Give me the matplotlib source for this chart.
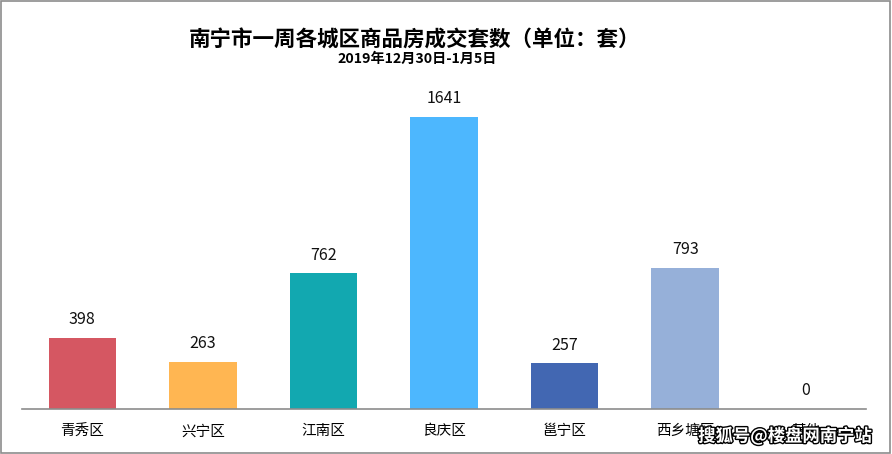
import matplotlib.pyplot as plt
import matplotlib.patheffects as pe
from matplotlib.patches import Rectangle

plt.rcParams['font.family'] = ['Noto Sans CJK SC', 'DejaVu Sans']

districts = ['青秀区', '兴宁区', '江南区', '良庆区', '邕宁区', '西乡塘区', '其他']
sales = [398, 263, 762, 1641, 257, 793, 0]
colors = ['#D55762', '#FFB652', '#12A8B0', '#4DB7FE', '#4267B2', '#96B0D9', '#A5A5A5']

fig = plt.figure(figsize=(8.92, 4.54), dpi=100)
# axes in pixel terms: x 22..866, baseline y=409, top ~89
ax = fig.add_axes([22 / 892, (454 - 409) / 454, 844 / 892, 320.3 / 454])

x = range(len(districts))
bars = ax.bar(x, sales, width=0.56, color=colors)
ax.set_xlim(-0.5, len(districts) - 0.5)
ax.set_ylim(0, 1800)

for xi, v in zip(x, sales):
    ax.annotate(str(v), (xi, v), xytext=(0, 7), textcoords='offset points',
                ha='center', va='bottom', fontsize=11.5, color='#111111')

for side in ['top', 'right', 'left']:
    ax.spines[side].set_visible(False)
ax.spines['bottom'].set_color('#8C8C8C')
ax.spines['bottom'].set_linewidth(1.2)
ax.set_yticks([])
ax.set_xticks(list(x))
ax.set_xticklabels(districts, fontsize=10.5)
ax.tick_params(axis='x', length=0, pad=11)

fig.text(415 / 892, 1 - 40 / 454, '南宁市一周各城区商品房成交套数（单位：套）',
         ha='center', va='center', fontsize=15.5, fontweight='bold')
fig.text(417 / 892, 1 - 59 / 454, '2019年12月30日-1月5日',
         ha='center', va='center', fontsize=10.2, fontweight='bold')

# watermark
fig.text(872 / 892, 1 - 436 / 454, '搜狐号@楼盘网南宁站', ha='right', va='center',
         fontsize=12.5, fontweight='bold', color='white',
         path_effects=[pe.withStroke(linewidth=2, foreground='black')])

# outer border
fig.patches.append(Rectangle((0.001, 0.002), 0.997, 0.995, transform=fig.transFigure,
                             fill=False, edgecolor='#8C8C8C', linewidth=1.2))

fig.savefig('out.png', dpi=100)
